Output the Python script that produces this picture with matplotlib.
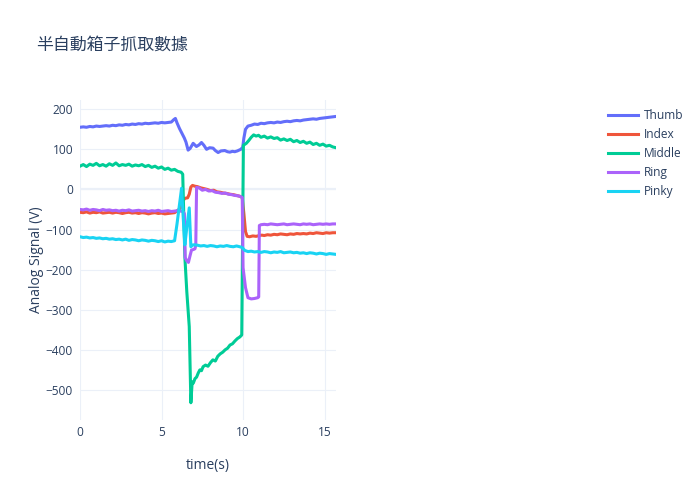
import matplotlib.pyplot as plt

plt.rcParams['font.family'] = ['Open Sans', 'Noto Sans CJK TC', 'DejaVu Sans']

# shared time grids (s)
t_early = [0.0, 0.2, 0.4, 0.6, 0.8, 1.0, 1.2, 1.4, 1.6, 1.8, 2.0, 2.2, 2.4, 2.6, 2.8, 3.0,
           3.2, 3.4, 3.6, 3.8, 4.0, 4.2, 4.4, 4.6, 4.8, 5.0, 5.2, 5.4, 5.6, 5.8, 6.0, 6.2]
t_late = [11.3, 11.5, 11.7, 11.9, 12.1, 12.3, 12.5, 12.7, 12.9, 13.1, 13.3, 13.5,
          13.7, 13.9, 14.1, 14.3, 14.5, 14.7, 14.9, 15.1, 15.3, 15.5, 15.7]

# Thumb
t_thumb = t_early[:29] + [5.75, 5.85, 5.95, 6.1, 6.25, 6.4, 6.5, 6.63, 6.75, 6.94,
                          7.14, 7.3, 7.45, 7.6, 7.76, 7.95, 8.16, 8.3, 8.47, 8.65,
                          8.88, 9.05, 9.19, 9.35, 9.49, 9.65, 9.86, 9.98, 10.05, 10.15,
                          10.3, 10.5, 10.7, 10.9, 11.1] + t_late
thumb = [155, 156, 155, 157, 156, 158, 157, 158, 159, 158, 160, 159, 161, 160, 162,
         161, 163, 162, 164, 163, 165, 164, 165, 166, 165, 167, 166, 167, 168,
         174, 177, 166, 152, 140, 128, 118, 98, 102, 115,
         107, 111, 117, 110, 100, 104, 103, 97, 92, 96,
         97, 94, 93, 95, 94, 96, 100, 105, 128, 150,
         158, 160, 163, 162, 165,
         164, 166, 167, 166, 168, 167, 169, 170, 169, 171, 172, 171, 173, 174,
         175, 176, 175, 177, 178, 179, 180, 181, 182]

# Index
t_index = t_early[:29] + [5.8, 6.0, 6.15, 6.3, 6.45, 6.6, 6.7, 6.8, 6.9, 7.05,
                          7.2, 7.4, 7.6, 7.8, 8.0, 8.2, 8.4, 8.6, 8.8, 9.0,
                          9.2, 9.4, 9.6, 9.8, 9.95, 10.05, 10.15, 10.25, 10.4, 10.6,
                          10.8, 11.0, 11.15] + t_late
index = [-57, -58, -56, -59, -57, -58, -56, -59, -58, -57, -59, -57, -58, -60, -58,
         -57, -59, -58, -60, -58, -59, -61, -59, -58, -60, -59, -61, -60, -59,
         -58, -52, -47, -28, -22, -21, -12, 6, 10, 8,
         7, 4, 2, 0, -3, -2, -6, -7, -9, -10,
         -12, -13, -15, -17, -20, -60, -105, -117, -118, -116,
         -117, -115, -114,
         -115, -113, -114, -112, -113, -111, -112, -113, -111, -112, -110, -111,
         -110, -111, -109, -110, -108, -109, -110, -108, -109, -108, -108]

# Middle
t_middle = t_early + [6.3, 6.43, 6.55, 6.7, 6.8, 6.88, 6.95, 7.05, 7.15, 7.25,
                      7.35, 7.45, 7.55, 7.7, 7.85, 8.0, 8.15, 8.3, 8.45, 8.6,
                      8.75, 8.9, 9.05, 9.2, 9.35, 9.5, 9.65, 9.8, 9.92, 10.02,
                      10.2, 10.35, 10.5, 10.65, 10.8, 10.95, 11.1] + t_late
middle = [58, 62, 57, 63, 60, 65, 59, 62, 58, 64, 60, 66, 59, 62, 60, 63,
          58, 61, 59, 62, 57, 60, 55, 58, 53, 56, 50, 53, 48, 50, 45, 43,
          38, -168, -255, -342, -532, -480, -483, -472, -468, -458,
          -450, -452, -442, -438, -441, -432, -425, -428, -416, -410,
          -406, -400, -396, -388, -385, -378, -372, -368, -363, 110,
          115, 122, 130, 136, 133, 135, 130,
          133, 128, 131, 127, 129, 123, 126, 122, 125, 119, 122, 117,
          120, 115, 118, 112, 115, 110, 113, 108, 110, 106, 104]

# Ring
t_ring = t_early[:30] + [6.0, 6.15, 6.3, 6.4, 6.45, 6.55, 6.65, 6.75, 6.84, 6.95,
                         7.05, 7.1, 7.15, 7.3, 7.5, 7.7, 7.9, 8.1, 8.3, 8.5,
                         8.7, 8.9, 9.1, 9.3, 9.5, 9.7, 9.85, 9.95, 10.0, 10.15,
                         10.3, 10.5, 10.7, 10.9, 10.96, 11.0, 11.1] + t_late
ring = [-50, -51, -49, -52, -50, -51, -53, -50, -52, -51, -53, -52, -54, -52, -53,
        -51, -54, -53, -52, -54, -53, -55, -53, -54, -52, -55, -54, -53, -55, -54,
        -53, -54, -55, -60, -170, -178, -182, -165, -151, -150,
        -148, -140, 5, 4, -2, 0, -4, -3, -7, -8,
        -10, -9, -12, -13, -15, -16, -18, -20, -195, -245,
        -270, -273, -272, -270, -268, -90, -88,
        -87, -88, -86, -87, -88, -87, -86, -88, -87, -86, -87, -88,
        -86, -87, -86, -88, -87, -86, -87, -86, -87, -86, -86]

# Pinky
t_pinky = t_early[:30] + [5.95, 6.1, 6.23, 6.33, 6.43, 6.55, 6.7, 6.8, 6.9, 7.0,
                          7.2, 7.4, 7.6, 7.8, 8.0, 8.2, 8.4, 8.6, 8.8, 9.0,
                          9.2, 9.4, 9.6, 9.8, 9.95, 10.1, 10.3, 10.5, 10.7, 10.9,
                          11.1] + t_late
pinky = [-118, -120, -119, -121, -120, -122, -121, -123, -122, -124, -123, -125,
         -124, -126, -124, -127, -125, -126, -128, -126, -127, -129, -127, -128,
         -130, -128, -131, -129, -130, -128,
         -86, -38, 3, -70, -138, -95, -46, -143, -139, -138,
         -139, -141, -140, -142, -140, -141, -143, -141, -142, -140,
         -142, -143, -141, -143, -145, -152, -155, -154, -156, -155,
         -157,
         -155, -156, -158, -156, -157, -155, -158, -157, -156, -158, -157, -159,
         -158, -160, -158, -159, -161, -159, -160, -162, -160, -161, -162]

names = ['Thumb', 'Index', 'Middle', 'Ring', 'Pinky']
colors = ['#636EFA', '#EF553B', '#00CC96', '#AB63FA', '#19D3F3']
series = [(t_thumb, thumb), (t_index, index), (t_middle, middle), (t_ring, ring), (t_pinky, pinky)]

txt = '#2a3f5f'
fig = plt.figure(figsize=(7, 5), dpi=100)
ax = fig.add_axes([80/700, 80/500, 256/700, 320/500])

for (t, v), name, c in zip(series, names, colors):
    ax.plot(t, v, color=c, lw=2.2, label=name, solid_joinstyle='round')

ax.set_xlim(0, 15.7)
ax.set_ylim(-575, 223)
ax.set_xticks([0, 5, 10, 15])
ax.set_yticks([-500, -400, -300, -200, -100, 0, 100, 200])
ax.grid(color='#EBF0F8', lw=0.8)
ax.axhline(0, color='#EBF0F8', lw=1.6, zorder=0.5)
ax.set_axisbelow(True)
for s in ax.spines.values():
    s.set_visible(False)
ax.tick_params(length=0, colors=txt, labelsize=8.6)
ax.tick_params(axis='y', pad=5)
ax.tick_params(axis='x', pad=4)

fig.text(208/700, 1 - 466/500, 'time(s)', ha='center', va='center', fontsize=10, color=txt)
fig.text(37/700, 1 - 260/500, 'Analog Signal (V)', ha='center', va='center',
         rotation=90, fontsize=10, color=txt)
fig.text(36/700, 1 - 45/500, '半自動箱子抓取數據', ha='left', va='center',
         fontsize=12.2, color=txt, family=['Noto Sans CJK TC'])

fig.legend(loc='upper left', bbox_to_anchor=(608/700, 1 - 109/500), frameon=False,
           fontsize=8.6, labelcolor=txt, handlelength=2.5, handletextpad=0.5,
           labelspacing=0.5, borderaxespad=0, borderpad=0)

fig.savefig('out.png', dpi=100)
